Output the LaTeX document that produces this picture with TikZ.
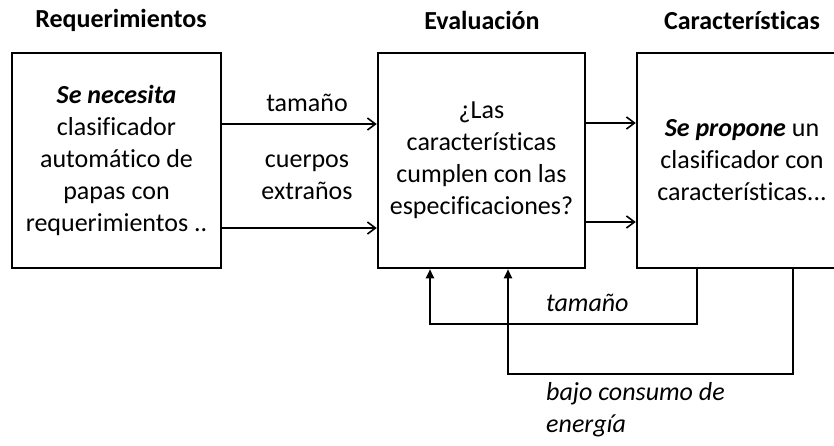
\documentclass[tikz,border=0pt]{standalone}
\usepackage{fontspec}
\setmainfont[Ligatures={NoCommon,NoRequired,NoContextual}]{Carlito}
\usetikzlibrary{arrows.meta}
\begin{document}
\begin{tikzpicture}[x=1pt,y=-1pt,
  every node/.style={font=\fontsize{26}{32}\selectfont, inner sep=0pt},
  blk/.style={draw, line width=2.5pt, align=center, minimum width=209pt, minimum height=215pt},
  ttl/.style={font=\fontsize{26}{32}\selectfont\bfseries},
  lbl/.style={align=center},
  fwd/.style={line width=2pt, -{Straight Barb[length=8pt,width=12pt,line width=1.6pt]}},
  back/.style={line width=2pt, -{Triangle[length=9pt,width=8pt]}},
  ilbl/.style={font=\fontsize{26}{32}\selectfont\itshape, align=left, anchor=west}]
\useasboundingbox (0,0) rectangle (834,445);
\node[blk] (req) at (116.5,160.5) {\textbf{\textit{Se necesita}}\\clasificador\\autom\'atico de\\papas con\\requerimientos ..};
\node[blk, minimum width=207pt] (eva) at (481.5,160.5) {¿Las\\características\\cumplen con las\\especificaciones?};
\node[blk, minimum width=210pt] (car) at (742,160.5) {\textbf{\textit{Se propone}} un\\clasificador con\\características...};
\node[ttl] (t1) at (121,20) {Requerimientos};
\node[ttl] (t2) at (482,20) {Evaluación};
\node[ttl] (t3) at (742,20) {Características};
% forward arrows
\coordinate (a1s) at (225,124);
\draw[fwd] (req.east |- a1s) -- (eva.west |- a1s);
\coordinate (a2s) at (221,228);
\draw[fwd] (req.east |- a2s) -- (eva.west |- a2s);
\node[lbl] (l1) at (307,103) {tamaño};
\node[lbl] (l2) at (307,177) {cuerpos\\extraños};
\coordinate (b1) at (0,123);
\coordinate (b2) at (0,222);
\draw[fwd] (eva.east |- b1) -- (car.west |- b1);
\draw[fwd] (eva.east |- b2) -- (car.west |- b2);
% feedback
\coordinate (f1) at (697,0);
\coordinate (f1u) at (430,0);
\draw[back] (car.south -| f1) -- (697,324) -- (430,324) -- (eva.south -| f1u);
\coordinate (f2) at (793,0);
\coordinate (f2u) at (508,0);
\draw[back] (car.south -| f2) -- (793,374) -- (508,374) -- (eva.south -| f2u);
\node[ilbl] (l3) at (546,303) {tamaño};
\node[ilbl] (l4) at (546,410) {bajo consumo de\\energía};
\end{tikzpicture}
\end{document}
